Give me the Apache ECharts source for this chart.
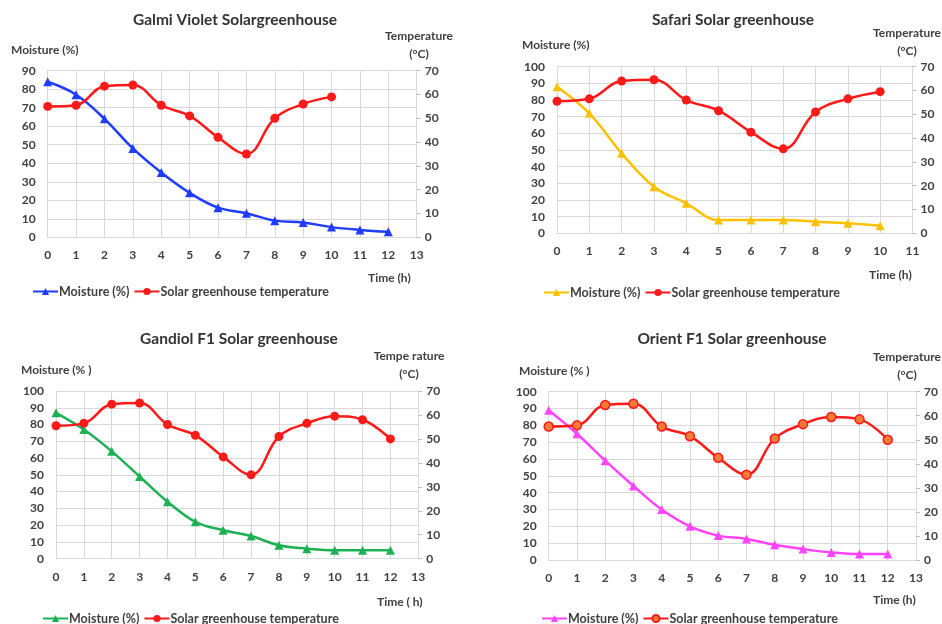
<!DOCTYPE html>
<html>
<head>
<meta charset="utf-8">
<script src="https://cdn.jsdelivr.net/npm/echarts@6/dist/echarts.min.js"></script>
<style>
  html, body { margin: 0; padding: 0; background: #fff; }
  #chart { width: 942px; height: 624px; }
</style>
</head>
<body>
<div id="chart"></div>
<script>
// hours (x values)
const hours13 = [0, 1, 2, 3, 4, 5, 6, 7, 8, 9, 10, 11, 12]
const hours11 = [0, 1, 2, 3, 4, 5, 6, 7, 8, 9, 10]

// Galmi Violet
const galmiMoisture = [84, 77, 64, 48, 35, 24, 16, 13, 9, 8, 5.5, 4, 3]
const galmiTemp = [55, 55.5, 63.5, 64, 55.5, 51, 42, 35, 50, 56, 59]

// Safari
const safariMoisture = [88, 72, 48, 28, 18, 8, 8, 8, 7, 6, 4.5]
const safariTemp = [55.5, 56.5, 64, 64.5, 56, 51.5, 42.5, 35.5, 51, 56.5, 59.5]

// Gandiol F1
const gandiolMoisture = [87, 77, 64, 49, 34, 22, 17, 13.5, 8, 6, 5, 5, 5]
const gandiolTemp = [55.5, 56.5, 64.5, 65, 56, 51.5, 42.5, 35, 51, 56.5, 59.5, 58, 50]

// Orient F1
const orientMoisture = [89, 75, 59, 44, 30, 20, 14.5, 12.5, 9, 6.5, 4.5, 3.5, 3.5]
const orientTemp = [55.5, 56, 64.5, 65, 55.5, 51.5, 42.5, 35.5, 50.5, 56.5, 59.5, 58.5, 50]

// axis ranges
const timeMax = [13, 11, 13, 13]
const moistureMax = [90, 100, 100, 100]
const tempMax = 70

const FONT = 'Lato'
const TXT = '#404040'
const GRIDLINE = '#d9d9d9'

const panels = [
  {
    title: 'Galmi Violet Solargreenhouse', titleX: 235, titleY: 12,
    grid: { left: 47.7, top: 70.7, width: 369, height: 166.6 },
    moistName: 'Moisture (%)', moistX: 11, moistY: 44,
    tempName: 'Temperature\n(°C)', tempX: 419, tempY: 27,
    timeName: 'Time (h)', timeX: 368, timeY: 272,
    legendX: 32, legendY: 285,
    hoursM: hours13, moist: galmiMoisture,
    hoursT: hours11, temp: galmiTemp,
    mColor: '#1f3cff', tFill: '#ff1a1a'
  },
  {
    title: 'Safari Solar greenhouse', titleX: 733, titleY: 12,
    grid: { left: 557, top: 66.7, width: 355.5, height: 166.6 },
    moistName: 'Moisture (%)', moistX: 522, moistY: 39,
    tempName: 'Temperature\n(°C)', tempX: 907, tempY: 24,
    timeName: 'Time (h)', timeX: 869, timeY: 269,
    legendX: 543, legendY: 286,
    hoursM: hours11, moist: safariMoisture,
    hoursT: hours11, temp: safariTemp,
    mColor: '#ffc000', tFill: '#ff1a1a'
  },
  {
    title: 'Gandiol F1 Solar greenhouse', titleX: 239, titleY: 331,
    grid: { left: 56, top: 391, width: 362.3, height: 167.7 },
    moistName: 'Moisture (% )', moistX: 21, moistY: 364,
    tempName: 'Tempe rature\n(°C)', tempX: 409, tempY: 347,
    timeName: 'Time ( h)', timeX: 377, timeY: 596,
    legendX: 42, legendY: 612,
    hoursM: hours13, moist: gandiolMoisture,
    hoursT: hours13, temp: gandiolTemp,
    mColor: '#1db153', tFill: '#ff1a1a'
  },
  {
    title: 'Orient F1 Solar greenhouse', titleX: 732, titleY: 331,
    grid: { left: 548.7, top: 391.7, width: 367.3, height: 168.3 },
    moistName: 'Moisture (% )', moistX: 519, moistY: 365,
    tempName: 'Temperature\n(°C)', tempX: 907, tempY: 348,
    timeName: 'Time (h)', timeX: 873, timeY: 594,
    legendX: 541, legendY: 612,
    hoursM: hours13, moist: orientMoisture,
    hoursT: hours13, temp: orientTemp,
    mColor: '#ff44ff', tFill: '#f47b35'
  }
]

const titles = []
const grids = []
const xAxes = []
const yAxes = []
const series = []
const legends = []

const labelStyle = { color: TXT, fontFamily: FONT, fontSize: 12, fontWeight: 'bold' }

panels.forEach((p, i) => {
  titles.push({
    text: p.title, left: p.titleX, top: p.titleY, textAlign: 'center', padding: 0,
    textStyle: { color: '#333', fontFamily: FONT, fontSize: 15.5, fontWeight: 'bold' }
  })
  titles.push({
    text: p.moistName, left: p.moistX, top: p.moistY, padding: 0,
    textStyle: Object.assign({}, labelStyle)
  })
  titles.push({
    text: p.tempName, left: p.tempX, top: p.tempY, textAlign: 'center', padding: 0,
    textStyle: Object.assign({}, labelStyle, { lineHeight: 18 })
  })
  titles.push({
    text: p.timeName, left: p.timeX, top: p.timeY, padding: 0,
    textStyle: Object.assign({}, labelStyle)
  })

  grids.push(Object.assign({ containLabel: false }, p.grid))

  xAxes.push({
    type: 'value', gridIndex: i, min: 0, max: timeMax[i], interval: 1,
    axisLine: { lineStyle: { color: GRIDLINE } },
    axisTick: { show: false },
    axisLabel: Object.assign({ margin: 12 }, labelStyle),
    splitLine: { show: true, lineStyle: { color: GRIDLINE } }
  })

  yAxes.push({
    type: 'value', gridIndex: i, min: 0, max: moistureMax[i], interval: 10,
    axisLine: { show: true, lineStyle: { color: GRIDLINE } },
    axisTick: { show: false },
    axisLabel: Object.assign({ margin: 12 }, labelStyle),
    splitLine: { show: true, lineStyle: { color: GRIDLINE } }
  })
  yAxes.push({
    type: 'value', gridIndex: i, position: 'right', min: 0, max: tempMax, interval: 10,
    axisLine: { show: false },
    axisTick: { show: true, length: 4, lineStyle: { color: '#bfbfbf' } },
    axisLabel: Object.assign({ margin: 8 }, labelStyle),
    splitLine: { show: false }
  })

  const mName = 'Moisture (%)#' + i
  const tName = 'Solar greenhouse temperature#' + i

  series.push({
    name: mName, type: 'line', xAxisIndex: i, yAxisIndex: i * 2,
    smooth: 0.4, symbol: 'triangle', symbolSize: 9, showSymbol: true,
    lineStyle: { color: p.mColor, width: 2.5 },
    itemStyle: { color: p.mColor },
    data: p.hoursM.map((h, k) => [h, p.moist[k]]),
    z: 3
  })
  series.push({
    name: tName, type: 'line', xAxisIndex: i, yAxisIndex: i * 2 + 1,
    smooth: 0.4, symbol: 'circle', symbolSize: 9, showSymbol: true,
    lineStyle: { color: '#ff1a1a', width: 2.5 },
    itemStyle: { color: p.tFill, borderColor: '#ff1a1a', borderWidth: p.tFill === '#ff1a1a' ? 0 : 1.5 },
    data: p.hoursT.map((h, k) => [h, p.temp[k]]),
    z: 4
  })

  legends.push({
    left: p.legendX, top: p.legendY, orient: 'horizontal', padding: 0,
    data: [mName, tName],
    itemWidth: 25, itemHeight: 9, itemGap: 4,
    formatter: name => name.split('#')[0],
    textStyle: { color: TXT, fontFamily: FONT, fontSize: 12.5, fontWeight: 'bold', padding: [0, 0, 0, -4] },
    selectedMode: false
  })
})

const chart = echarts.init(document.getElementById('chart'))
chart.setOption({
  backgroundColor: '#fff',
  animation: false,
  title: titles,
  grid: grids,
  xAxis: xAxes,
  yAxis: yAxes,
  legend: legends,
  series: series
})
</script>
</body>
</html>
